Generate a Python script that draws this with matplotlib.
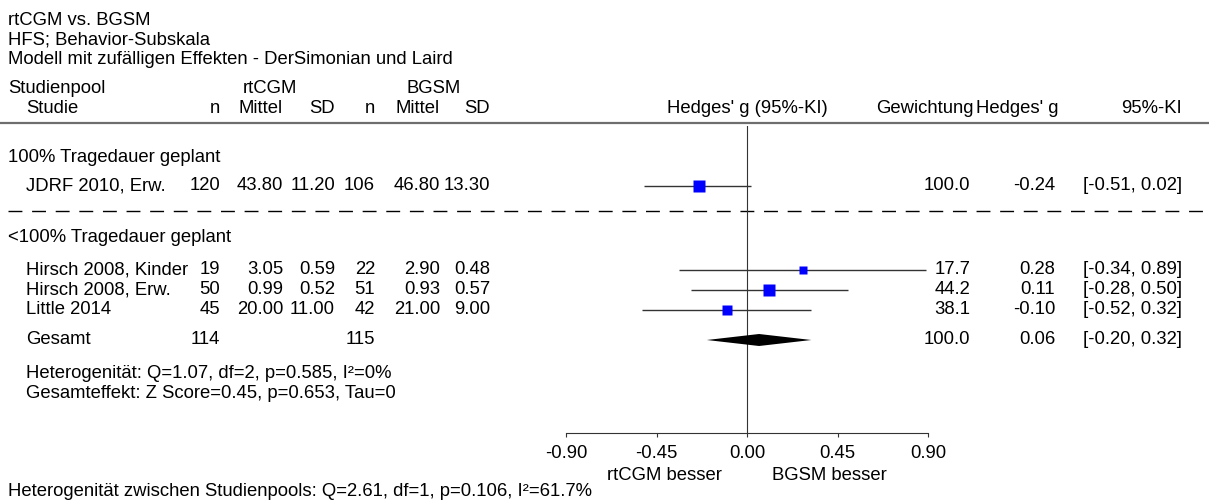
import matplotlib
matplotlib.use("Agg")
import matplotlib.pyplot as plt
from matplotlib.transforms import blended_transform_factory

# ---------------- data ----------------
title_lines = ["rtCGM vs. BGSM", "HFS; Behavior-Subskala",
               "Modell mit zufälligen Effekten - DerSimonian und Laird"]
group_names = ["100% Tragedauer geplant", "<100% Tragedauer geplant"]
studies = ["JDRF 2010, Erw.", "Hirsch 2008, Kinder", "Hirsch 2008, Erw.", "Little 2014"]
study_group = [0, 1, 1, 1]
n_rt = [120, 19, 50, 45]
mean_rt = [43.80, 3.05, 0.99, 20.00]
sd_rt = [11.20, 0.59, 0.52, 11.00]
n_bg = [106, 22, 51, 42]
mean_bg = [46.80, 2.90, 0.93, 21.00]
sd_bg = [13.30, 0.48, 0.57, 9.00]
weight = [100.0, 17.7, 44.2, 38.1]
g = [-0.24, 0.28, 0.11, -0.10]
ci_lo = [-0.51, -0.34, -0.28, -0.52]
ci_hi = [0.02, 0.89, 0.50, 0.32]

pooled_label = "Gesamt"
pooled_n_rt = 114
pooled_n_bg = 115
pooled_weight = 100.0
pooled_g = 0.06
pooled_lo = -0.20
pooled_hi = 0.32
het_text = "Heterogenität: Q=1.07, df=2, p=0.585, I²=0%"
eff_text = "Gesamteffekt: Z Score=0.45, p=0.653, Tau=0"
between_text = "Heterogenität zwischen Studienpools: Q=2.61, df=1, p=0.106, I²=61.7%"
xticks = [-0.90, -0.45, 0.00, 0.45, 0.90]
left_label = "rtCGM besser"
right_label = "BGSM besser"

# ---------------- layout (pixels) ----------------
W, H, DPI = 1209, 501, 100
FS = 13.3
plt.rcParams["font.family"] = ["Liberation Sans", "DejaVu Sans"]
plt.rcParams["font.size"] = FS

X_LEFT, X_IND = 8, 26
C_NRT, C_MRT, C_SDRT = 220, 283, 335
C_NBG, C_MBG, C_SDBG = 375, 440, 490
C_HG_HEAD = 828
C_WH, C_W, C_G, C_CI = 974, 970, 1055, 1182
Y_TITLE = [20, 40, 59]
Y_H1, Y_H2, Y_HLINE = 88, 108, 122.5
Y_GROUP = [157, 237]
Y_STUDY = [186, 270, 290, 310]
Y_DASH = 211
Y_POOL = 340
Y_HET, Y_EFF = 374, 394
Y_AX_TOP, Y_AX = 126, 433
Y_BESSER, Y_BOTTOM = 475, 491
PX_X0, PX_X1 = 566, 928
XMIN, XMAX = -0.90, 0.90

fig = plt.figure(figsize=(W / DPI, H / DPI), dpi=DPI)
bg = fig.add_axes([0, 0, 1, 1])
bg.set_xlim(0, W)
bg.set_ylim(H, 0)
bg.axis("off")

def t(x, y, s, ha="left"):
    bg.text(x, y, s, ha=ha, va="center", fontsize=FS, color="black")

for y, s in zip(Y_TITLE, title_lines):
    t(X_LEFT, y, s)

# headers
t(X_LEFT, Y_H1, "Studienpool")
t(270, Y_H1, "rtCGM", "center")
t(434, Y_H1, "BGSM", "center")
t(X_IND, Y_H2, "Studie")
t(C_NRT, Y_H2, "n", "right")
t(C_MRT, Y_H2, "Mittel", "right")
t(C_SDRT, Y_H2, "SD", "right")
t(C_NBG, Y_H2, "n", "right")
t(C_MBG, Y_H2, "Mittel", "right")
t(C_SDBG, Y_H2, "SD", "right")
t(C_HG_HEAD, Y_H2, "Hedges' g (95%-KI)", "right")
t(C_WH, Y_H2, "Gewichtung", "right")
t(C_G + 3, Y_H2, "Hedges' g", "right")
t(C_CI, Y_H2, "95%-KI", "right")
bg.plot([0, W], [Y_HLINE, Y_HLINE], color="#6e6e6e", lw=1.6, solid_capstyle="butt")

# groups
for y, s in zip(Y_GROUP, group_names):
    t(X_LEFT, y, s)
bg.plot([X_LEFT, W], [Y_DASH, Y_DASH], color="black", lw=1.0, ls=(0, (10, 7)))

for i, s in enumerate(studies):
    y = Y_STUDY[i]
    t(X_IND, y, s)
    t(C_NRT, y, f"{n_rt[i]}", "right")
    t(C_MRT, y, f"{mean_rt[i]:.2f}", "right")
    t(C_SDRT, y, f"{sd_rt[i]:.2f}", "right")
    t(C_NBG, y, f"{n_bg[i]}", "right")
    t(C_MBG, y, f"{mean_bg[i]:.2f}", "right")
    t(C_SDBG, y, f"{sd_bg[i]:.2f}", "right")
    t(C_W, y, f"{weight[i]:.1f}", "right")
    t(C_G, y, f"{g[i]:.2f}", "right")
    t(C_CI, y, f"[{ci_lo[i]:.2f}, {ci_hi[i]:.2f}]", "right")

t(X_IND, Y_POOL, pooled_label)
t(C_NRT, Y_POOL, f"{pooled_n_rt}", "right")
t(C_NBG, Y_POOL, f"{pooled_n_bg}", "right")
t(C_W, Y_POOL, f"{pooled_weight:.1f}", "right")
t(C_G, Y_POOL, f"{pooled_g:.2f}", "right")
t(C_CI, Y_POOL, f"[{pooled_lo:.2f}, {pooled_hi:.2f}]", "right")
t(X_IND, Y_HET, het_text)
t(X_IND, Y_EFF, eff_text)
t(X_LEFT, Y_BOTTOM, between_text)

# ---------------- forest axes ----------------
ax = fig.add_axes([PX_X0 / W, (H - Y_AX) / H, (PX_X1 - PX_X0) / W, (Y_AX - Y_AX_TOP) / H])
ax.patch.set_alpha(0)
ax.set_xlim(XMIN, XMAX)
ax.set_ylim(Y_AX, Y_AX_TOP)
for side in ["top", "left", "right"]:
    ax.spines[side].set_visible(False)
ax.spines["bottom"].set_color("#333333")
ax.spines["bottom"].set_linewidth(0.8)
ax.set_yticks([])
ax.set_xticks(xticks)
ax.set_xticklabels([f"{v:.2f}" for v in xticks])
ax.tick_params(axis="x", direction="out", length=3, width=0.8, color="#333333",
               pad=5.5, labelsize=FS)
ax.axvline(0, color="#333333", lw=0.8, zorder=1)

SQ_MAX_PX = 11.8
for gi in sorted(set(study_group)):
    idx = [i for i in range(len(studies)) if study_group[i] == gi]
    wmax = max(weight[i] for i in idx)
    for i in idx:
        y = Y_STUDY[i]
        ax.plot([ci_lo[i], ci_hi[i]], [y, y], color="#333333", lw=1.0, zorder=2,
                solid_capstyle="butt", clip_on=False)
        side = SQ_MAX_PX * (weight[i] / wmax) ** 0.5
        ax.plot([g[i]], [y], marker="s", ms=side * 72 / DPI, color="#0000ff",
                mec="none", zorder=3, clip_on=False)

DH = 6
ax.fill([pooled_lo, pooled_g, pooled_hi, pooled_g],
        [Y_POOL, Y_POOL - DH, Y_POOL, Y_POOL + DH], color="black", zorder=3, lw=0)

tr = blended_transform_factory(ax.transData, bg.transData)
bg.text(-0.125, Y_BESSER, left_label, transform=tr, ha="right", va="center", fontsize=FS)
bg.text(0.125, Y_BESSER, right_label, transform=tr, ha="left", va="center", fontsize=FS)

fig.savefig("out.png", dpi=DPI)
